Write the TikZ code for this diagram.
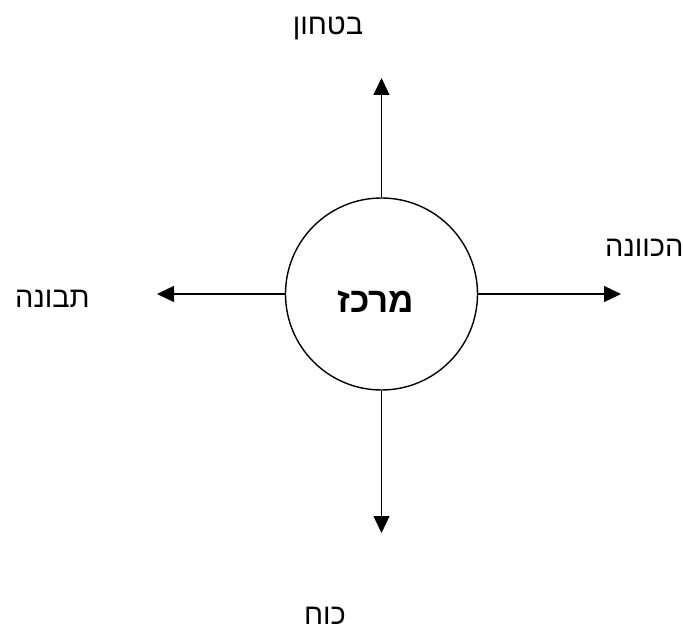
\documentclass[tikz,border=0pt]{standalone}
\usepackage{fontspec}
\usepackage{tikz}
\usetikzlibrary{arrows.meta}
\setmainfont{Liberation Sans}
\newfontfamily\hebfont[Script=Hebrew]{Liberation Sans}
\TeXXeTstate=1

\begin{document}
\begin{tikzpicture}[x=1pt,y=-1pt,
  freccia/.style={line width=1.3pt, -{Triangle[length=17pt,width=16pt]}},
  voce/.style={font=\fontsize{29}{33}\selectfont\hebfont, inner sep=0pt}]

% Colori
\definecolor{lineBlack}{HTML}{000000}

% Raggio del cerchio
\def\r{96}

% Cornice
\useasboundingbox (0,0) rectangle (683,628);

% Cerchio centrale
\node[circle, draw=lineBlack, line width=1.4pt, minimum size=2*\r pt, inner sep=0pt] (merkaz) at (381.5,294) {};
\node[font=\fontsize{35}{40}\selectfont\bfseries\hebfont, inner sep=0pt, anchor=base] (merkazTxt) at (376,313) {\beginR מרכז\endR};

% Estremi delle frecce
\coordinate (su) at (381.5,78);
\coordinate (giu) at (381.5,533);
\coordinate (sx) at (157,294);
\coordinate (dx) at (621,294);

% Frecce
\draw[freccia, lineBlack] (merkaz.north) -- (su);
\draw[freccia, lineBlack] (merkaz.south) -- (giu);
\draw[freccia, lineBlack] (merkaz.west) -- (sx);
\draw[freccia, lineBlack] (merkaz.east) -- (dx);

% Etichette
\node[voce, anchor=base] (bitachon) at (328,35) {\beginR בטחון\endR};
\node[voce, anchor=base west] (hakvana) at (605,257) {\beginR הכוונה\endR};
\node[voce, anchor=base west] (tvuna) at (15,308) {\beginR תבונה\endR};
\node[voce, anchor=base, text depth=0pt] (koach) at (325,624) {\beginR כוח\endR};

\end{tikzpicture}
\end{document}
